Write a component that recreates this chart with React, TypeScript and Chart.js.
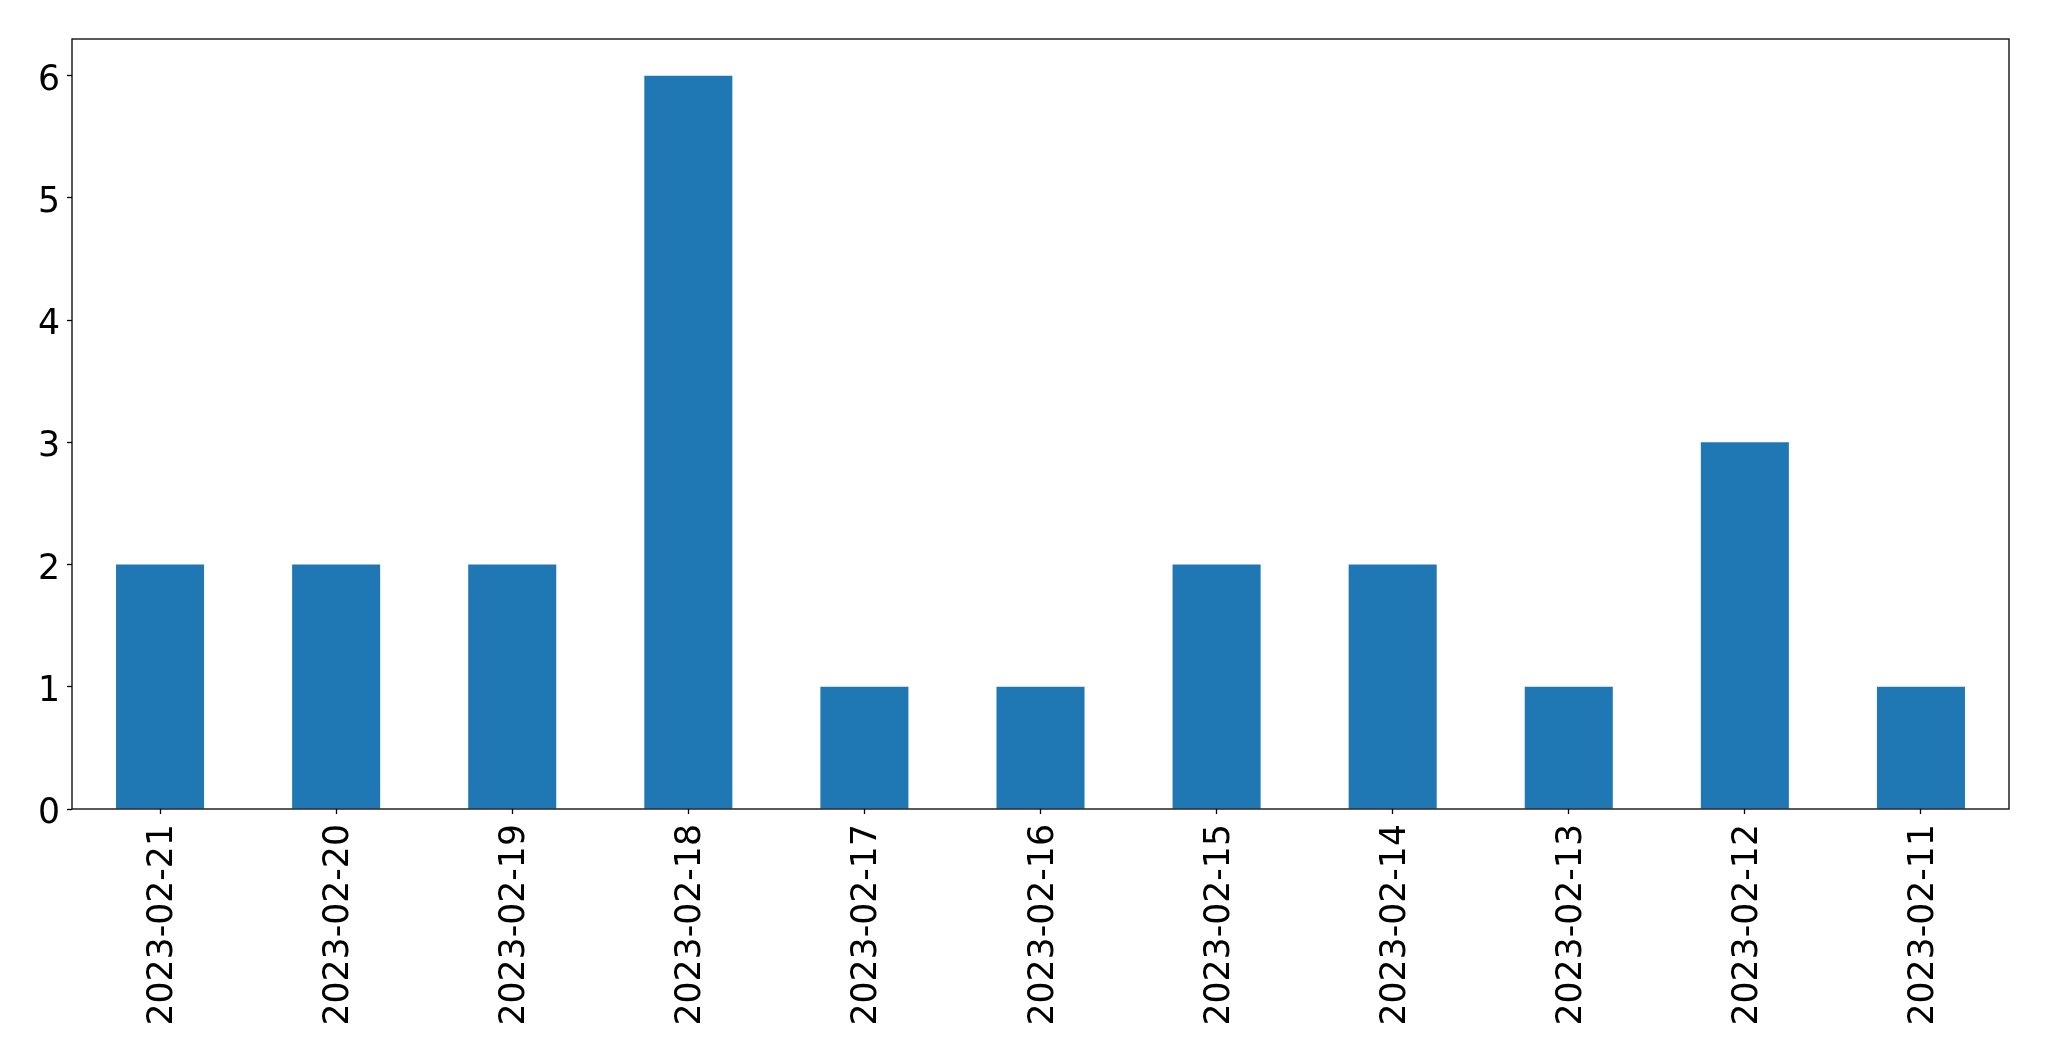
import React, { useEffect, useRef } from "react";
import { Chart, registerables } from "chart.js";

Chart.register(...registerables);

const categories = [
  "2023-02-21",
  "2023-02-20",
  "2023-02-19",
  "2023-02-18",
  "2023-02-17",
  "2023-02-16",
  "2023-02-15",
  "2023-02-14",
  "2023-02-13",
  "2023-02-12",
  "2023-02-11",
];
const counts = [2, 2, 2, 6, 1, 1, 2, 2, 1, 3, 1];
const yTicks = [0, 1, 2, 3, 4, 5, 6];

const W = 2049;
const H = 1061;
const FONT = "'DejaVu Sans', sans-serif";
const FONT_SIZE = 34.7;

const framePlugin = {
  id: "frame",
  afterDatasetsDraw(chart: any) {
    const { ctx, chartArea } = chart;
    ctx.save();
    ctx.strokeStyle = "#000";
    ctx.lineWidth = 1.3;
    ctx.strokeRect(chartArea.left, chartArea.top, chartArea.right - chartArea.left, chartArea.bottom - chartArea.top);
    ctx.restore();
  },
};

export default function App() {
  const ref = useRef<HTMLCanvasElement | null>(null);
  useEffect(() => {
    document.body.style.margin = "0";
    const chart = new Chart(ref.current as HTMLCanvasElement, {
      type: "bar",
      data: {
        labels: categories,
        datasets: [
          {
            data: counts,
            backgroundColor: "#1f77b4",
            borderWidth: 0,
            categoryPercentage: 1,
            barPercentage: 0.5,
          },
        ],
      },
      options: {
        animation: false,
        responsive: false,
        devicePixelRatio: 1,
        layout: { padding: { left: 0, top: 39, right: 40, bottom: 0 } },
        plugins: { legend: { display: false }, tooltip: { enabled: false } },
        scales: {
          x: {
            type: "category",
            offset: true,
            grid: {
              display: true,
              drawOnChartArea: false,
              drawTicks: true,
              tickLength: 5,
              tickColor: "#000",
              tickWidth: 1.3,
              offset: false,
            },
            border: { display: false },
            ticks: {
              color: "#000",
              font: { family: FONT, size: FONT_SIZE },
              maxRotation: 90,
              minRotation: 90,
              padding: 10,
              labelOffset: 3,
              autoSkip: false,
            },
            afterFit(scale: any) {
              scale.height = 252;
            },
          },
          y: {
            min: 0,
            max: 6.3,
            grid: {
              display: true,
              drawOnChartArea: false,
              drawTicks: true,
              tickLength: 5,
              tickColor: "#000",
              tickWidth: 1.3,
            },
            border: { display: false },
            ticks: {
              color: "#000",
              font: { family: FONT, size: FONT_SIZE },
              stepSize: 1,
              padding: 7,
              labelOffset: 5,
            },
            afterBuildTicks(scale: any) {
              scale.ticks = yTicks.map((v) => ({ value: v }));
            },
            afterFit(scale: any) {
              scale.width = 72;
            },
          },
        },
      },
      plugins: [framePlugin],
    });
    return () => chart.destroy();
  }, []);
  return (
    <div style={{ position: "absolute", left: 0, top: 0, width: W, height: H }}>
      <canvas ref={ref} width={W} height={H} style={{ display: "block", width: W, height: H }} />
    </div>
  );
}
